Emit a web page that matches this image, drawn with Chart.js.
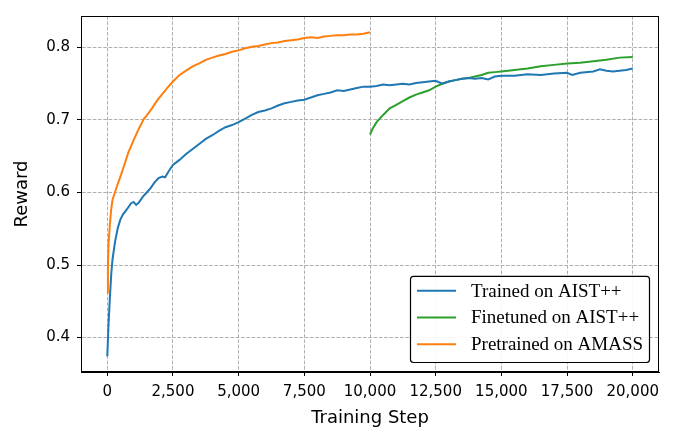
<!DOCTYPE html>
<html>
<head>
<meta charset="utf-8">
<script src="https://cdn.jsdelivr.net/npm/chart.js@4/dist/chart.umd.min.js"></script>
<style>
  html, body { margin: 0; padding: 0; background: #fff; }
  #wrap { width: 683px; height: 429px; }
</style>
</head>
<body>
<div id="wrap"><canvas id="rewardChart"></canvas></div>
<script>
// series labels (legend order)
const seriesLabels = ['Trained on AIST++', 'Finetuned on AIST++', 'Pretrained on AMASS'];
const seriesColors = ['#1f77b4', '#2ca02c', '#ff7f0e'];

// tick positions
const xTicks = [0, 2500, 5000, 7500, 10000, 12500, 15000, 17500, 20000];
const yTicks = [0.4, 0.5, 0.6, 0.7, 0.8];

// Trained on AIST++
const trainedSteps = [0, 50, 100, 150, 200, 300, 400, 500, 600, 750, 900, 1000, 1100, 1200, 1350, 1500, 1650, 1800, 1950, 2100, 2200, 2350, 2500, 2750, 3000, 3250, 3500, 3750, 4000, 4250, 4500, 4750, 5000, 5250, 5500, 5750, 6000, 6250, 6500, 6750, 7000, 7250, 7500, 7750, 8000, 8250, 8500, 8750, 9000, 9250, 9500, 9750, 10000, 10250, 10500, 10750, 11000, 11250, 11500, 11750, 12000, 12250, 12500, 12750, 13000, 13250, 13500, 13750, 14000, 14250, 14500, 14750, 15000, 15500, 16000, 16500, 17000, 17500, 17700, 18000, 18500, 18750, 19000, 19250, 19500, 19750, 20000];
const trainedReward = [0.374, 0.420, 0.455, 0.487, 0.508, 0.533, 0.551, 0.563, 0.570, 0.577, 0.585, 0.587, 0.583, 0.586, 0.594, 0.600, 0.606, 0.614, 0.620, 0.622, 0.621, 0.630, 0.638, 0.645, 0.653, 0.660, 0.667, 0.674, 0.679, 0.685, 0.690, 0.693, 0.697, 0.702, 0.707, 0.711, 0.713, 0.716, 0.720, 0.723, 0.725, 0.727, 0.728, 0.731, 0.734, 0.736, 0.738, 0.741, 0.740, 0.742, 0.744, 0.746, 0.746, 0.747, 0.749, 0.748, 0.749, 0.750, 0.749, 0.751, 0.752, 0.753, 0.754, 0.750, 0.753, 0.755, 0.757, 0.758, 0.757, 0.758, 0.756, 0.760, 0.761, 0.761, 0.763, 0.762, 0.764, 0.765, 0.762, 0.765, 0.767, 0.770, 0.768, 0.767, 0.768, 0.769, 0.771];

// Finetuned on AIST++
const finetunedSteps = [10000, 10100, 10250, 10500, 10750, 11000, 11250, 11500, 11750, 12000, 12250, 12500, 12750, 13000, 13250, 13500, 13750, 14000, 14250, 14500, 14750, 15000, 15500, 16000, 16500, 17000, 17500, 18000, 18500, 19000, 19500, 20000];
const finetunedReward = [0.680, 0.688, 0.697, 0.707, 0.716, 0.721, 0.726, 0.731, 0.735, 0.738, 0.741, 0.746, 0.750, 0.753, 0.755, 0.757, 0.758, 0.760, 0.762, 0.765, 0.766, 0.767, 0.769, 0.771, 0.774, 0.776, 0.778, 0.779, 0.781, 0.783, 0.786, 0.787];

// Pretrained on AMASS
const pretrainedSteps = [0, 25, 50, 100, 150, 200, 300, 400, 500, 650, 800, 1000, 1200, 1400, 1500, 1700, 1900, 2100, 2300, 2500, 2750, 3000, 3250, 3500, 3750, 4000, 4250, 4500, 4750, 5000, 5250, 5500, 5750, 6000, 6250, 6500, 6750, 7000, 7250, 7500, 7750, 8000, 8250, 8500, 8750, 9000, 9250, 9500, 9750, 10000];
const pretrainedReward = [0.462, 0.500, 0.530, 0.556, 0.577, 0.590, 0.601, 0.612, 0.622, 0.638, 0.655, 0.672, 0.688, 0.702, 0.706, 0.716, 0.727, 0.736, 0.745, 0.753, 0.762, 0.768, 0.774, 0.778, 0.783, 0.786, 0.789, 0.791, 0.794, 0.796, 0.799, 0.801, 0.802, 0.804, 0.806, 0.807, 0.809, 0.810, 0.811, 0.813, 0.814, 0.813, 0.815, 0.816, 0.817, 0.817, 0.818, 0.818, 0.819, 0.821];

function toPoints(steps, values) {
    return steps.map((s, i) => ({ x: s, y: values[i] }));
}

// full frame around the plot, like matplotlib spines
const frame = {
    id: 'frame',
    afterDatasetsDraw(chart) {
        const a = chart.chartArea;
        const ctx = chart.ctx;
        ctx.save();
        ctx.strokeStyle = '#000';
        ctx.lineWidth = 1;
        ctx.setLineDash([]);
        ctx.strokeRect(a.left + 0.5, a.top + 0.5, a.right - a.left - 1, a.bottom - a.top - 1);
        ctx.restore();
    }
};

// legend box in the lower right corner of the plot
const boxLegend = {
    id: 'boxLegend',
    afterDraw(chart) {
        const a = chart.chartArea;
        const ctx = chart.ctx;
        const sets = chart.data.datasets;
        const w = 239, rowH = 26.7, h = rowH * sets.length + 6;
        const x = a.right - 10 - w;
        const y = a.bottom - 10 - h;
        ctx.save();
        ctx.beginPath();
        ctx.roundRect(x + 0.5, y + 0.5, w, h, 3);
        ctx.fillStyle = 'rgba(255,255,255,0.9)';
        ctx.fill();
        ctx.strokeStyle = '#000';
        ctx.lineWidth = 1.2;
        ctx.stroke();
        ctx.font = '19px "Liberation Serif", "Times New Roman", serif';
        ctx.textBaseline = 'middle';
        sets.forEach((ds, i) => {
            const cy = y + 1.5 + rowH * (i + 0.5);
            ctx.strokeStyle = ds.borderColor;
            ctx.lineWidth = 2;
            ctx.beginPath();
            ctx.moveTo(x + 7, cy);
            ctx.lineTo(x + 46, cy);
            ctx.stroke();
            ctx.fillStyle = '#000';
            ctx.fillText(ds.label, x + 61, cy + 1);
        });
        ctx.restore();
    }
};

const tickFont = { family: '"DejaVu Sans", sans-serif', size: 15 };
const titleFont = { family: '"DejaVu Sans", sans-serif', size: 18, lineHeight: 1.0 };
const gridStyle = {
    color: '#b0b0b0',
    tickColor: '#000',
    tickBorderDash: [],
    tickLength: 4,
    lineWidth: 1
};
const borderStyle = { display: true, color: '#000', width: 1, dash: [3.7, 1.6] };

new Chart(document.getElementById('rewardChart'), {
    type: 'line',
    data: {
        datasets: [
            { label: seriesLabels[0], data: toPoints(trainedSteps, trainedReward), borderColor: seriesColors[0] },
            { label: seriesLabels[1], data: toPoints(finetunedSteps, finetunedReward), borderColor: seriesColors[1] },
            { label: seriesLabels[2], data: toPoints(pretrainedSteps, pretrainedReward), borderColor: seriesColors[2] }
        ].map(ds => Object.assign(ds, { borderWidth: 2, pointRadius: 0, tension: 0, fill: false }))
    },
    options: {
        responsive: true,
        maintainAspectRatio: false,
        animation: false,
        layout: { padding: { left: 0, right: 24, top: 10, bottom: 0 } },
        plugins: {
            legend: { display: false },
            tooltip: { enabled: false }
        },
        scales: {
            x: {
                type: 'linear',
                min: -1000,
                max: 21000,
                grid: gridStyle,
                border: borderStyle,
                afterBuildTicks(scale) { scale.ticks = xTicks.map(v => ({ value: v })); },
                ticks: {
                    color: '#000',
                    font: tickFont,
                    padding: 7,
                    maxRotation: 0,
                    autoSkip: false,
                    callback: v => v.toLocaleString('en-US')
                },
                title: {
                    display: true,
                    text: 'Training Step',
                    color: '#000',
                    font: titleFont,
                    padding: { top: 4, bottom: 2 }
                },
                afterFit(scale) { scale.height = 57; }
            },
            y: {
                type: 'linear',
                min: 0.3525,
                max: 0.8434,
                grid: gridStyle,
                border: borderStyle,
                afterBuildTicks(scale) { scale.ticks = yTicks.map(v => ({ value: v })); },
                ticks: {
                    color: '#000',
                    font: tickFont,
                    padding: 7,
                    autoSkip: false,
                    callback: v => v.toFixed(1)
                },
                title: {
                    display: true,
                    text: 'Reward',
                    color: '#000',
                    font: titleFont,
                    padding: { top: 13, bottom: 0 }
                },
                afterFit(scale) { scale.width = 81; }
            }
        }
    },
    plugins: [frame, boxLegend]
});
</script>
</body>
</html>
